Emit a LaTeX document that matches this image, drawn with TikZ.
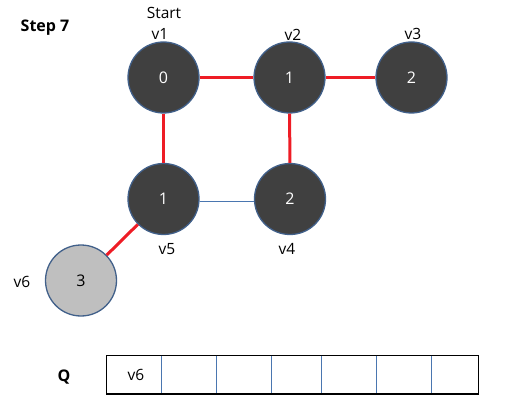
\documentclass[tikz,border=0pt]{standalone}
\usepackage{fontspec}
\setmainfont{Open Sans}
\definecolor{darkfill}{HTML}{404040}
\definecolor{lightfill}{HTML}{BFBFBF}
\definecolor{rim}{HTML}{41608A}
\definecolor{thinblue}{HTML}{4A76B0}
\definecolor{redline}{HTML}{EE1C25}
\begin{document}
\begin{tikzpicture}[x=1pt,y=-1pt,
  vert/.style={circle,draw=rim,line width=1.3pt,fill=darkfill,minimum size=71pt,inner sep=0pt,text=white,font=\fontsize{16}{18}\selectfont},
  vertlight/.style={vert,fill=lightfill,text=black},
  lbl/.style={font=\fontsize{15.5}{17}\selectfont,inner sep=0pt},
  boldlbl/.style={font=\bfseries\fontsize{16}{18}\selectfont,inner sep=0pt},
  tree/.style={draw=redline,line width=3pt},
  plain/.style={draw=thinblue,line width=0.8pt},
  cellsep/.style={draw=thinblue,line width=0.7pt}]
\useasboundingbox (0,0) rectangle (511,414);
\node[boldlbl] (step) at (45,28) {Step 7};
\node[vert] (v1) at (163.5,77.5) {0};
\node[vert] (v2) at (289.5,77.5) {1};
\node[vert] (v3) at (411.5,77.5) {2};
\node[vert] (v5) at (163.5,199) {1};
\node[vert] (v4) at (290,199) {2};
\node[vertlight] (v6) at (81,280.5) {3};
\node[lbl] (start) at (164,13) {Start};
\node[lbl] (l1) at (160,34) {v1};
\node[lbl] (l2) at (293,35) {v2};
\node[lbl] (l3) at (413,34) {v3};
\node[lbl] (l5) at (167,249) {v5};
\node[lbl] (l4) at (287,249) {v4};
\node[lbl] (l6) at (22,282) {v6};
\draw[tree] (v1) -- (v2);
\draw[tree] (v2) -- (v3);
\draw[tree] (v1) -- (v5);
\draw[tree] (v2) -- (v4);
\draw[tree] (v5) -- (v6);
\draw[plain] (v5.east |- 0,201) coordinate (a) -- (v4.west |- 0,201) coordinate (b);
\node[boldlbl] (q) at (64,377) {Q};
\node[draw=black,line width=1.5pt,minimum width=372pt,minimum height=38.5pt,inner sep=0pt,anchor=north west] (queue) at (105.7,354.7) {};
\foreach \xx [count=\i] in {161,216,271.3,321.7,376.7,431}
  \draw[cellsep] (\xx,355.5) coordinate (t\i) -- (\xx,392.5) coordinate (b\i);
\node[lbl] (qv6) at (136,375) {v6};
\end{tikzpicture}
\end{document}
